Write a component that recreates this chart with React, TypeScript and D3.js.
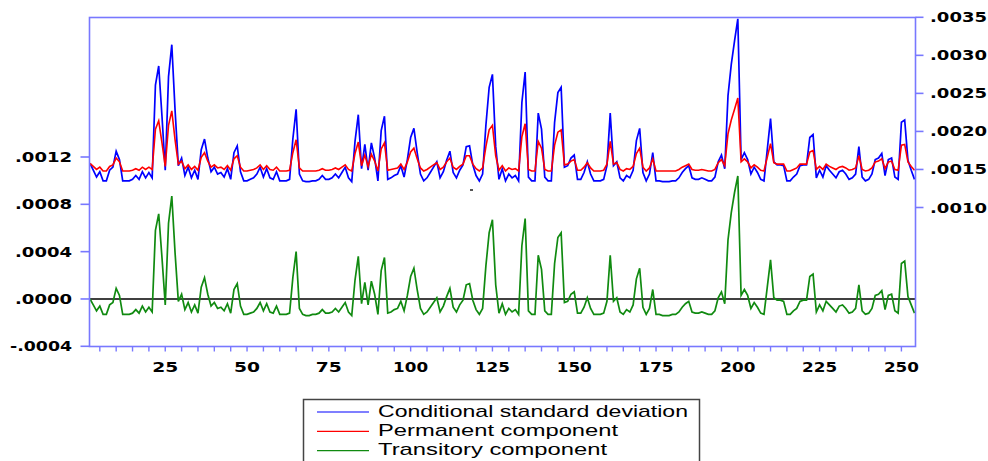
import React from "react";
import * as d3 from "d3";

// Observations 2..254; values are in units of 1e-5
const FIRST_OBS = 2;
const UNIT = 1e-5;

const condSd = [
  158,149,140,147,135,135,149,153,174,163,
  135,135,135,137,142,137,147,139,146,139,
  261,286,220,149,272,314,228,155,165,142,
  153,139,149,137,176,190,165,147,153,144,
  146,140,151,137,172,181,147,135,135,137,
  139,144,153,140,151,139,137,147,135,135,
  135,137,190,229,144,135,134,134,135,135,
  137,142,137,137,139,144,139,146,153,139,
  134,187,222,151,183,149,185,165,135,201,
  220,137,139,142,144,155,140,163,192,204,
  172,144,135,139,146,153,160,139,147,162,
  174,146,139,149,156,180,181,156,142,135,
  144,208,258,275,180,137,151,135,144,139,
  142,135,238,278,140,135,135,224,203,140,
  135,135,212,251,258,153,155,165,169,137,
  137,146,160,144,135,135,135,137,155,224,
  155,160,139,135,142,139,149,188,204,146,
  135,144,172,135,135,134,134,134,135,135,
  139,146,151,155,139,137,137,139,137,135,
  135,140,160,169,151,247,288,319,348,163,
  172,163,144,153,146,137,135,176,217,160,
  156,156,155,135,135,140,144,155,156,156,
  192,196,139,149,140,155,149,144,139,147,
  149,144,137,139,144,180,140,135,137,144,
  163,165,171,142,163,165,140,137,212,215,
  162,149,137,
];

const permanent = [
  158,154,150,153,148,148,154,156,165,160,
  148,148,148,149,151,149,153,150,153,150,
  203,214,185,154,208,227,189,157,161,151,
  156,150,154,149,166,172,161,153,156,152,
  153,150,155,149,164,168,153,148,148,149,
  150,152,156,150,155,150,149,153,148,148,
  148,149,172,189,152,148,148,148,148,148,
  149,151,149,149,150,152,150,153,156,150,
  148,171,186,155,169,154,170,161,148,177,
  185,149,150,151,152,157,150,160,173,178,
  164,152,148,150,153,156,159,150,153,160,
  165,153,150,154,157,168,168,157,151,148,
  152,180,202,208,168,149,155,148,152,150,
  151,148,193,210,150,148,148,187,178,150,
  148,148,182,199,202,156,157,161,163,149,
  149,153,159,152,148,148,148,149,157,187,
  157,159,150,148,151,150,154,171,178,153,
  148,152,164,148,148,148,148,148,148,148,
  150,153,155,157,150,149,149,150,149,148,
  148,150,159,163,155,197,215,229,244,160,
  164,160,152,156,153,149,148,166,184,159,
  157,157,157,148,148,150,152,157,157,157,
  173,175,150,154,150,157,154,152,150,153,
  154,152,149,150,152,168,150,148,149,152,
  160,161,164,151,160,161,150,149,182,183,
  160,154,149,
];

const transitory = [
  0,-5,-10,-6,-13,-13,-5,-3,9,3,
  -13,-13,-13,-12,-9,-12,-6,-11,-7,-11,
  58,72,35,-5,64,87,39,-2,4,-9,
  -3,-11,-5,-12,10,18,4,-6,-3,-8,
  -7,-10,-4,-12,8,13,-6,-13,-13,-12,
  -11,-8,-3,-10,-4,-11,-12,-6,-13,-13,
  -13,-12,18,40,-8,-13,-14,-14,-13,-13,
  -12,-9,-12,-12,-11,-8,-11,-7,-3,-11,
  -14,16,36,-4,14,-5,15,4,-13,24,
  35,-12,-11,-9,-8,-2,-10,3,19,26,
  8,-8,-13,-11,-7,-3,1,-11,-6,2,
  9,-7,-11,-5,-1,12,13,-1,-9,-13,
  -8,28,56,67,12,-12,-4,-13,-8,-11,
  -9,-13,45,68,-10,-13,-13,37,25,-10,
  -13,-13,30,52,56,-3,-2,4,6,-12,
  -12,-7,1,-8,-13,-13,-13,-12,-2,37,
  -2,1,-11,-13,-9,-11,-5,17,26,-7,
  -13,-8,8,-13,-13,-14,-14,-14,-13,-13,
  -11,-7,-4,-2,-11,-12,-12,-11,-12,-13,
  -13,-10,1,6,-4,50,73,90,104,3,
  8,3,-8,-3,-7,-12,-13,10,33,1,
  -1,-1,-2,-13,-13,-10,-8,-2,-1,-1,
  19,21,-11,-5,-10,-2,-5,-8,-11,-6,
  -5,-8,-12,-11,-8,12,-10,-13,-12,-8,
  3,4,7,-9,3,4,-10,-12,30,32,
  2,-5,-12,
];

const leftTicks = [-0.0004, 0, 0.0004, 0.0008, 0.0012];
const leftTickLabels = ["-.0004", ".0000", ".0004", ".0008", ".0012"];
const rightTicks = [0.001, 0.0015, 0.002, 0.0025, 0.003, 0.0035];
const rightTickLabels = [".0010", ".0015", ".0020", ".0025", ".0030", ".0035"];
const xMajorTicks = [25, 50, 75, 100, 125, 150, 175, 200, 225, 250];
const xMinorStep = 5;
const legendLabels = ["Conditional standard deviation", "Permanent component", "Transitory component"];
const legendColors = ["#0000ff", "#ff0000", "#108a10"];

const W = 988;
const H = 461;
const L = 89.5, R = 915.5, T = 17.5, B = 346.5;
const FRAME = "#7878ff";
const FONT = "'DejaVu Sans', Verdana, sans-serif";

export default function App() {
  const obs = condSd.map((_, i) => i + FIRST_OBS);
  const x = d3.scaleLinear().domain([FIRST_OBS, FIRST_OBS + condSd.length - 1]).range([90, 914.5]);
  const yL = d3.scaleLinear().domain([-0.0004, 0.0012]).range([346.3, 157]);
  const yR = d3.scaleLinear().domain([0.001, 0.0035]).range([207.5, 17.3]);

  const lineR = d3.line<number>().x((_, i) => x(obs[i])).y((d) => yR(d * UNIT));
  const lineL = d3.line<number>().x((_, i) => x(obs[i])).y((d) => yL(d * UNIT));

  const minorTicks = d3.range(xMinorStep, x.domain()[1] + 1, xMinorStep).filter((t) => t >= x.domain()[0]);

  return (
    <div style={{ position: "absolute", left: 0, top: 0 }}>
      <svg width={W} height={H} style={{ display: "block", background: "#fff" }}>
        <rect x={0} y={0} width={W} height={H} fill="#fff" />
        {/* zero line */}
        <line x1={L} x2={R} y1={yL(0)} y2={yL(0)} stroke="#000" strokeWidth={1.5} />
        {/* series */}
        <path d={lineR(condSd) || ""} fill="none" stroke={legendColors[0]} strokeWidth={1.7} strokeLinejoin="miter" />
        <path d={lineR(permanent) || ""} fill="none" stroke={legendColors[1]} strokeWidth={1.6} />
        <path d={lineL(transitory) || ""} fill="none" stroke={legendColors[2]} strokeWidth={1.7} />
        {/* frame */}
        <rect x={L} y={T} width={R - L} height={B - T} fill="none" stroke={FRAME} strokeWidth={1.6} />
        {/* left axis */}
        {leftTicks.map((t, i) => {
          const y = yL(t);
          const lbl = leftTickLabels[i];
          const w = lbl.startsWith("-") ? 62 : 57;
          return (
            <g key={"l" + i}>
              <line x1={80.5} x2={L} y1={y} y2={y} stroke={FRAME} strokeWidth={1.6} />
              <text x={72 - w} y={y + 5} fontFamily={FONT} fontWeight="bold" fontSize={14}
                textLength={w} lengthAdjust="spacingAndGlyphs" fill="#000">{lbl}</text>
            </g>
          );
        })}
        {/* right axis */}
        {rightTicks.map((t, i) => {
          const y = yR(t);
          return (
            <g key={"r" + i}>
              <line x1={R} x2={923.5} y1={y} y2={y} stroke={FRAME} strokeWidth={1.6} />
              <text x={930} y={y + 5} fontFamily={FONT} fontWeight="bold" fontSize={14}
                textLength={57} lengthAdjust="spacingAndGlyphs" fill="#000">{rightTickLabels[i]}</text>
            </g>
          );
        })}
        {/* bottom axis */}
        {minorTicks.map((t) => (
          <line key={"m" + t} x1={x(t)} x2={x(t)} y1={B} y2={B + 5} stroke={FRAME} strokeWidth={1.4} />
        ))}
        {xMajorTicks.map((t) => {
          const lbl = String(t);
          const w = lbl.length === 2 ? 26 : 35;
          return (
            <text key={"x" + t} x={x(t) - w / 2} y={372} fontFamily={FONT} fontWeight="bold" fontSize={14}
              textLength={w} lengthAdjust="spacingAndGlyphs" fill="#000">{lbl}</text>
          );
        })}
        <rect x={470} y={189} width={3} height={2} fill="#555" />
        {/* legend */}
        <rect x={303.5} y={399.5} width={396} height={80} fill="#fff" stroke="#444" strokeWidth={1.5} />
        {legendLabels.map((lbl, i) => {
          const yLine = 412 + i * 19.3;
          const widths = [310, 240, 229];
          return (
            <g key={"lg" + i}>
              <line x1={317} x2={369} y1={yLine} y2={yLine} stroke={legendColors[i]} strokeWidth={1.2} />
              <text x={378} y={yLine + 4.8} fontFamily="'Liberation Sans', Arial, sans-serif" fontSize={17}
                textLength={widths[i]} lengthAdjust="spacingAndGlyphs" fill="#000">{lbl}</text>
            </g>
          );
        })}
      </svg>
    </div>
  );
}
